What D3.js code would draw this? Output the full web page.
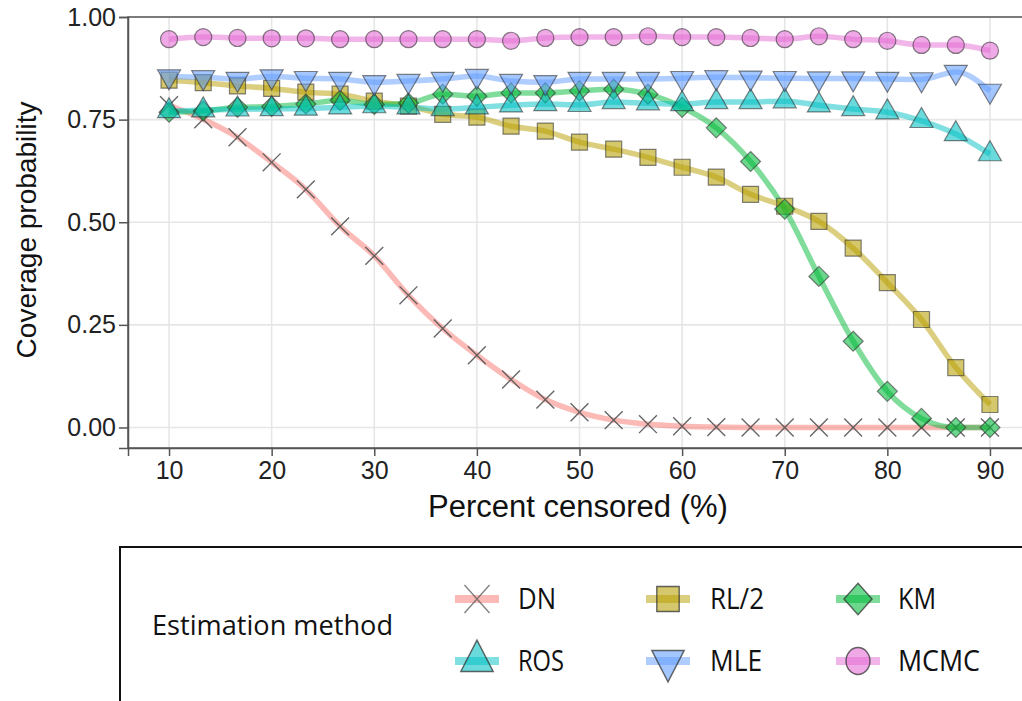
<!DOCTYPE html>
<html>
<head>
<meta charset="utf-8">
<script src="https://cdn.jsdelivr.net/npm/d3@7"></script>
<style>
  body { margin: 0; background: #fff; }
  svg { display: block; }
</style>
</head>
<body>
<svg id="chart" width="1022" height="701"></svg>
<script>
// censoring levels (%)
const censored = [10, 13.33, 16.67, 20, 23.33, 26.67, 30, 33.33, 36.67, 40, 43.33, 46.67, 50,
  53.33, 56.67, 60, 63.33, 66.67, 70, 73.33, 76.67, 80, 83.33, 86.67, 90];

const dn   = [0.785, 0.751, 0.707, 0.646, 0.58, 0.49, 0.418, 0.322, 0.241, 0.176, 0.117, 0.068, 0.037,
  0.018, 0.008, 0.003, 0.001, 0, 0, 0, 0, 0, 0, 0, 0];
const rl2  = [0.846, 0.84, 0.832, 0.826, 0.817, 0.812, 0.795, 0.783, 0.763, 0.756, 0.734, 0.722, 0.695,
  0.678, 0.658, 0.634, 0.61, 0.568, 0.539, 0.502, 0.437, 0.353, 0.263, 0.146, 0.056];
const km   = [0.768, 0.771, 0.78, 0.782, 0.788, 0.797, 0.787, 0.79, 0.812, 0.807, 0.815, 0.815, 0.82,
  0.824, 0.812, 0.78, 0.73, 0.648, 0.532, 0.368, 0.21, 0.088, 0.022, 0, 0];
const ros  = [0.771, 0.773, 0.775, 0.776, 0.777, 0.78, 0.783, 0.78, 0.776, 0.78, 0.785, 0.788, 0.786,
  0.793, 0.79, 0.788, 0.793, 0.793, 0.795, 0.785, 0.776, 0.768, 0.747, 0.715, 0.666];
const mle  = [0.855, 0.853, 0.849, 0.855, 0.851, 0.849, 0.841, 0.844, 0.849, 0.856, 0.844, 0.841, 0.849,
  0.849, 0.849, 0.851, 0.853, 0.852, 0.851, 0.85, 0.85, 0.849, 0.848, 0.866, 0.82];
const mcmc = [0.946, 0.951, 0.949, 0.948, 0.948, 0.946, 0.946, 0.946, 0.946, 0.946, 0.942, 0.949, 0.951,
  0.951, 0.953, 0.951, 0.951, 0.949, 0.946, 0.953, 0.946, 0.942, 0.932, 0.932, 0.918];

const methods = ["DN", "RL/2", "KM", "ROS", "MLE", "MCMC"];
const values = [dn, rl2, km, ros, mle, mcmc];
const colors = ["#F8766D", "#B79F00", "#00BA38", "#00BFC4", "#619CFF", "#E36BD4"];
const shapes = ["x", "square", "diamond", "up", "down", "circle"];

const xTicks = [10, 20, 30, 40, 50, 60, 70, 80, 90];
const yTicks = [0, 0.25, 0.5, 0.75, 1];

const svg = d3.select("#chart");
const font = "'Liberation Sans', Arimo, Arial, Helvetica, sans-serif";

const x = d3.scaleLinear().domain([6, 94]).range([128, 1031]);
const y = d3.scaleLinear().domain([-0.05, 1.0]).range([448, 17]);

// grid
const grid = svg.append("g");
grid.selectAll(".gx").data(xTicks).enter().append("line")
  .attr("x1", d => x(d)).attr("x2", d => x(d))
  .attr("y1", y.range()[0]).attr("y2", y.range()[1])
  .attr("stroke", "#e6e6e6").attr("stroke-width", 1.6);
grid.selectAll(".gy").data(yTicks).enter().append("line")
  .attr("x1", x.range()[0]).attr("x2", x.range()[1])
  .attr("y1", d => y(d)).attr("y2", d => y(d))
  .attr("stroke", "#e6e6e6").attr("stroke-width", 1.6);

// panel border
svg.append("rect")
  .attr("x", 128).attr("y", 17)
  .attr("width", 1031 - 128).attr("height", 448 - 17)
  .attr("fill", "none").attr("stroke", "#555").attr("stroke-width", 1.5);

// axes
const xAxis = svg.append("g").attr("transform", "translate(0,448)")
  .call(d3.axisBottom(x).tickValues(xTicks).tickSize(8).tickPadding(5));
const yAxis = svg.append("g").attr("transform", "translate(128,0)")
  .call(d3.axisLeft(y).tickValues(yTicks).tickFormat(d3.format(".2f")).tickSize(9).tickPadding(3));
[xAxis, yAxis].forEach(a => {
  a.attr("font-family", null).attr("font-size", null);
  a.select(".domain").attr("stroke", "#555").attr("stroke-width", 1.5);
  a.selectAll(".tick line").attr("stroke", "#555").attr("stroke-width", 1.5);
  a.selectAll(".tick text").attr("fill", "#222").style("font-family", font).style("font-size", "25px");
});

svg.append("text")
  .attr("x", 578).attr("y", 517)
  .attr("text-anchor", "middle")
  .style("font-family", font).style("font-size", "31px").attr("fill", "#111")
  .text("Percent censored (%)");
svg.append("text")
  .attr("transform", "translate(36,230) rotate(-90)")
  .attr("text-anchor", "middle")
  .style("font-family", font).style("font-size", "28px").attr("fill", "#111")
  .text("Coverage probability");

// symbol path for each shape
function symbolPath(shape, s) {
  s = s || 1;
  if (shape === "x") return d3.symbol(d3.symbolX, 210 * s * s)();
  if (shape === "square") return d3.symbol(d3.symbolSquare, 256 * s * s)();
  if (shape === "diamond") {
    const r = 10 * s;
    return `M0,${-r}L${r},0L0,${r}L${-r},0Z`;
  }
  if (shape === "circle") return d3.symbol(d3.symbolCircle, 230 * s * s)();
  return d3.symbol(d3.symbolTriangle, 230 * s * s)();
}
function symbolRot(shape) { return shape === "down" ? " rotate(180)" : ""; }

// lines
const line = d3.line()
  .x((d, i) => x(censored[i]))
  .y(d => y(d))
  .curve(d3.curveMonotoneX);

const lines = svg.append("g");
values.forEach((vals, k) => {
  lines.append("path")
    .attr("d", line(vals))
    .attr("fill", "none")
    .attr("stroke", colors[k])
    .attr("stroke-opacity", 0.5)
    .attr("stroke-width", 5.5)
    .attr("stroke-linejoin", "round");
});

// points
const points = svg.append("g");
values.forEach((vals, k) => {
  const sh = shapes[k];
  points.selectAll(".p" + k).data(vals).enter().append("path")
    .attr("transform", (d, i) => `translate(${x(censored[i])},${y(d)})` + symbolRot(sh))
    .attr("d", symbolPath(sh))
    .attr("fill", sh === "x" ? "none" : colors[k])
    .attr("fill-opacity", 0.58)
    .attr("stroke", sh === "x" ? "#555" : "#333")
    .attr("stroke-opacity", sh === "x" ? 0.9 : 0.6)
    .attr("stroke-width", sh === "x" ? 1.4 : 1.2);
});

// legend
const legendFont = "'Open Sans', 'Noto Sans', sans-serif";
const legend = svg.append("g");
legend.append("rect")
  .attr("x", 120).attr("y", 547)
  .attr("width", 960).attr("height", 200)
  .attr("fill", "#fff").attr("stroke", "#111").attr("stroke-width", 2);
legend.append("text")
  .attr("x", 152).attr("y", 635)
  .attr("textLength", 241).attr("lengthAdjust", "spacingAndGlyphs")
  .style("font-family", legendFont).style("font-size", "27px").style("font-weight", 500)
  .attr("fill", "#111")
  .text("Estimation method");

const keyX = [477, 668, 858];
const keyY = [599, 661];
const labelX = [518, 710, 898];
const labelW = [38, 54, 38, 46, 52, 82];
methods.forEach((m, k) => {
  const col = k % 3, row = Math.floor(k / 3);
  const cx = keyX[col], cy = keyY[row];
  legend.append("line")
    .attr("x1", cx - 22).attr("x2", cx + 22)
    .attr("y1", cy).attr("y2", cy)
    .attr("stroke", colors[k]).attr("stroke-opacity", 0.5).attr("stroke-width", 8);
  const sh = shapes[k];
  legend.append("path")
    .attr("transform", `translate(${cx},${cy})` + symbolRot(sh) + " scale(1,1.12)")
    .attr("d", symbolPath(sh, 1.4))
    .attr("fill", sh === "x" ? "none" : colors[k])
    .attr("fill-opacity", 0.58)
    .attr("stroke", sh === "x" ? "#555" : "#333")
    .attr("stroke-opacity", 0.75)
    .attr("stroke-width", 1.4);
  legend.append("text")
    .attr("x", labelX[col]).attr("y", cy + 10)
    .attr("textLength", labelW[k]).attr("lengthAdjust", "spacingAndGlyphs")
    .style("font-family", legendFont).style("font-size", "29px")
    .attr("fill", "#111")
    .text(m);
});
</script>
</body>
</html>
